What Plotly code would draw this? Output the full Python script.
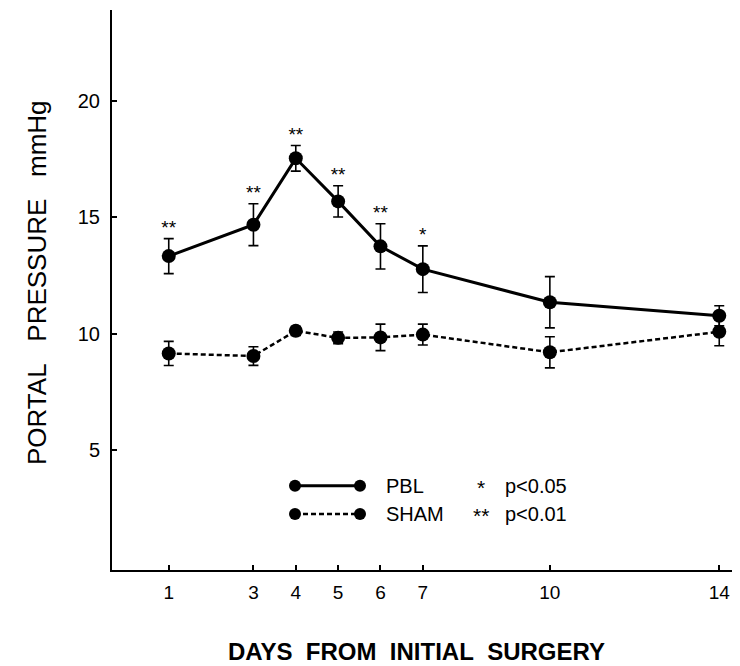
import plotly.graph_objects as go

days = [1, 3, 4, 5, 6, 7, 10, 14]
pbl_mean = [13.33, 14.68, 17.53, 15.68, 13.75, 12.77, 11.35, 10.77]
pbl_err = [0.75, 0.9, 0.55, 0.67, 0.97, 1.0, 1.1, 0.43]
sham_mean = [9.15, 9.04, 10.12, 9.82, 9.84, 9.96, 9.2, 10.08]
sham_err = [0.52, 0.4, 0.2, 0.25, 0.57, 0.45, 0.67, 0.6]
pbl_sig = ["**", "**", "**", "**", "**", "*", "", ""]
tick_vals = [1, 3, 4, 5, 6, 7, 10, 14]
y_ticks = [5, 10, 15, 20]

FONT = "Liberation Sans, Arial, sans-serif"
SHAM_DASH = "5px,3px"

fig = go.Figure()

fig.add_trace(go.Scatter(
    x=days, y=sham_mean, mode="lines+markers",
    line=dict(color="black", width=2.5, dash=SHAM_DASH),
    marker=dict(color="black", size=14),
    error_y=dict(type="data", array=sham_err, color="black", thickness=1.6, width=5),
    showlegend=False,
))
fig.add_trace(go.Scatter(
    x=days, y=pbl_mean, mode="lines+markers",
    line=dict(color="black", width=3),
    marker=dict(color="black", size=14),
    error_y=dict(type="data", array=pbl_err, color="black", thickness=1.6, width=5),
    showlegend=False,
))
fig.add_trace(go.Scatter(
    x=days, y=[m + e for m, e in zip(pbl_mean, pbl_err)], mode="text",
    text=pbl_sig, textposition="top center",
    textfont=dict(family=FONT, size=19, color="black"),
    showlegend=False,
))

# page has an 8px body margin; plot area spans page x 112..740, y 10..570
shapes = []
annotations = []
def px(x):
    return (x - 112) / 628
def py(y):
    return (570 - y) / 560

for yy, dash in [(485.7, "solid"), (514, SHAM_DASH)]:
    shapes.append(dict(type="line", xref="paper", yref="paper",
                       x0=px(295), x1=px(360), y0=py(yy), y1=py(yy),
                       line=dict(color="black", width=3 if dash == "solid" else 2.5, dash=dash)))
    for xx in (295, 360):
        shapes.append(dict(type="circle", xref="paper", yref="paper",
                           xsizemode="pixel", ysizemode="pixel",
                           xanchor=px(xx), yanchor=py(yy),
                           x0=-6, x1=6, y0=-6, y1=6,
                           fillcolor="black", line=dict(color="black", width=0)))

for txt, xx, yy, anchor, sz in [("PBL", 384, 485.7, "left", 20), ("SHAM", 384, 514, "left", 20),
                                ("*", 481, 487, "center", 21), ("**", 481, 515, "center", 21),
                                ("p&lt;0.05", 503, 485.7, "left", 20), ("p&lt;0.01", 503, 514, "left", 20)]:
    annotations.append(dict(text=txt, xref="paper", yref="paper", x=px(xx), y=py(yy),
                            xanchor=anchor, yanchor="middle", showarrow=False,
                            font=dict(family=FONT, size=sz, color="black")))

annotations.append(dict(text="DAYS\u00a0\u00a0FROM\u00a0\u00a0INITIAL\u00a0\u00a0SURGERY",
                        xref="paper", yref="paper", x=px(416), y=py(651),
                        xanchor="center", yanchor="middle", showarrow=False,
                        font=dict(family=FONT, size=24, color="black", weight="bold")))
annotations.append(dict(text="PORTAL\u00a0\u00a0\u00a0PRESSURE\u00a0\u00a0\u00a0mmHg",
                        xref="paper", yref="paper", x=px(37), y=py(283),
                        xanchor="center", yanchor="middle", showarrow=False, textangle=-90,
                        font=dict(family=FONT, size=26, color="black")))

fig.update_layout(
    width=732, height=658,
    margin=dict(l=104, r=0, t=2, b=96),
    paper_bgcolor="white", plot_bgcolor="white",
    shapes=shapes, annotations=annotations,
    font=dict(family=FONT, size=20, color="black"),
    xaxis=dict(range=[-0.34, 14.49], tickvals=tick_vals, ticks="inside", ticklen=5,
               tickwidth=1.5, tickcolor="black", showgrid=False, zeroline=False,
               showline=True, linecolor="black", linewidth=2, ticklabelstandoff=4,
               tickfont=dict(size=19)),
    yaxis=dict(range=[-0.15, 23.9], tickvals=y_ticks, ticks="inside", ticklen=5,
               tickwidth=1.5, tickcolor="black", showgrid=False, zeroline=False,
               showline=True, linecolor="black", linewidth=2, ticklabelstandoff=6,
               tickfont=dict(size=20)),
)

fig.write_html("out.html")
